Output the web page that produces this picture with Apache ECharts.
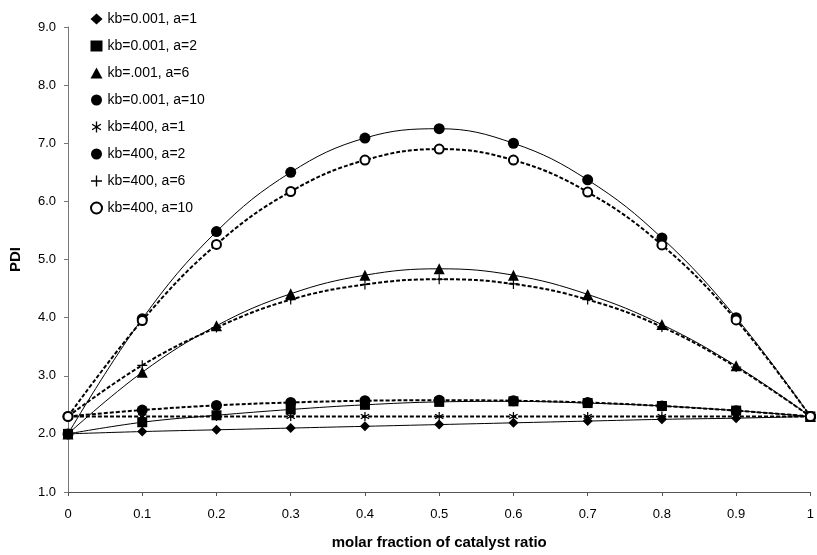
<!DOCTYPE html>
<html>
<head>
<meta charset="utf-8">
<script src="https://cdn.jsdelivr.net/npm/echarts@6/dist/echarts.min.js"></script>
<style>
html, body { margin: 0; padding: 0; background: #fff; }
#chart { width: 817px; height: 555px; }
</style>
</head>
<body>
<div id="chart"></div>
<script>
// x values (molar fraction)
var xs = [0, 0.1, 0.2, 0.3, 0.4, 0.5, 0.6, 0.7, 0.8, 0.9, 1];

// PDI values
var kb001a1 = [2.0, 2.04, 2.07, 2.1, 2.13, 2.16, 2.19, 2.22, 2.25, 2.27, 2.3];
var kb001a2 = [2.0, 2.2, 2.32, 2.42, 2.5, 2.55, 2.56, 2.53, 2.48, 2.4, 2.3];
var kb001a6 = [2.0, 3.06, 3.86, 4.41, 4.73, 4.84, 4.73, 4.4, 3.88, 3.17, 2.3];
var kb001a10 = [2.0, 3.98, 5.48, 6.5, 7.09, 7.25, 7.0, 6.37, 5.37, 4.0, 2.3];
var kb400a1 = [2.3, 2.3, 2.3, 2.3, 2.3, 2.3, 2.3, 2.3, 2.3, 2.3, 2.3];
var kb400a2 = [2.3, 2.41, 2.49, 2.54, 2.57, 2.58, 2.57, 2.54, 2.48, 2.4, 2.3];
var kb400a6 = [2.3, 3.18, 3.83, 4.31, 4.57, 4.66, 4.58, 4.31, 3.84, 3.15, 2.3];
var kb400a10 = [2.3, 3.95, 5.26, 6.17, 6.71, 6.9, 6.71, 6.16, 5.25, 3.96, 2.3];

var names = ['kb=0.001, a=1', 'kb=0.001, a=2', 'kb=.001, a=6', 'kb=0.001, a=10',
	'kb=400, a=1', 'kb=400, a=2', 'kb=400, a=6', 'kb=400, a=10'];

var asterisk = 'path://M4.4,0 L5.6,0 L5.6,10 L4.4,10 Z ' +
	'M1.32,1.99 L9.32,6.99 L8.68,8.01 L0.68,3.01 Z ' +
	'M0.68,6.99 L8.68,1.99 L9.32,3.01 L1.32,8.01 Z';
var plus = 'path://M4.4,0 L5.6,0 L5.6,4.4 L10,4.4 L10,5.6 L5.6,5.6 L5.6,10 L4.4,10 L4.4,5.6 L0,5.6 L0,4.4 L4.4,4.4 Z';

function pairs(vals) {
	return xs.map(function (x, i) { return [x, vals[i]]; });
}

function line(name, vals, symbol, size, dashed) {
	return {
		name: name,
		type: 'line',
		data: pairs(vals),
		smooth: 0.4,
		symbol: symbol,
		symbolSize: size,
		showAllSymbol: true,
		animation: false,
		itemStyle: { color: '#000', borderColor: '#000', borderWidth: symbol === 'emptyCircle' ? 1 : 0 },
		lineStyle: dashed ? { color: '#000', width: 2, type: [4, 2] } : { color: '#000', width: 1 }
	};
}

var myChart = echarts.init(document.getElementById('chart'));
var option = {
	backgroundColor: '#fff',
	animation: false,
	grid: { left: 64, right: 5, top: 27, bottom: 59, containLabel: false },
	legend: {
		orient: 'vertical',
		left: 85,
		top: 7,
		itemWidth: 12,
		itemHeight: 11,
		itemGap: 13,
		textStyle: { fontFamily: 'Liberation Sans, Arial', fontSize: 14, color: '#000' },
		data: [
			{ name: names[0], icon: 'diamond' },
			{ name: names[1], icon: 'rect' },
			{ name: names[2], icon: 'triangle' },
			{ name: names[3], icon: 'circle' },
			{ name: names[4], icon: asterisk },
			{ name: names[5], icon: 'circle' },
			{ name: names[6], icon: plus },
			{ name: names[7], icon: 'emptyCircle' }
		]
	}, //图例
	xAxis: {
		type: 'value',
		min: 0,
		max: 1,
		interval: 0.1,
		name: 'molar fraction of catalyst ratio',
		nameLocation: 'middle',
		nameGap: 43,
		nameTextStyle: { fontFamily: 'Liberation Sans, Arial', fontSize: 15, fontWeight: 'bold', color: '#000' },
		axisLine: { show: true, onZero: false, lineStyle: { color: '#555', width: 1 } },
		axisTick: { show: true, inside: false, length: 4, lineStyle: { color: '#555' } },
		axisLabel: {
			margin: 16,
			fontFamily: 'Liberation Sans, Arial',
			fontSize: 13,
			color: '#000',
			formatter: function (v) { return String(+v.toFixed(1)); }
		},
		splitLine: { show: false }
	},
	yAxis: {
		type: 'value',
		min: 1,
		max: 9,
		interval: 1,
		name: 'PDI',
		nameLocation: 'middle',
		nameGap: 45,
		nameRotate: 90,
		nameTextStyle: { fontFamily: 'Liberation Sans, Arial', fontSize: 15, fontWeight: 'bold', color: '#000' },
		axisLine: { show: true, lineStyle: { color: '#777', width: 1 } },
		axisTick: { show: true, inside: false, length: 4, lineStyle: { color: '#777' } },
		axisLabel: {
			margin: 12,
			fontFamily: 'Liberation Sans, Arial',
			fontSize: 13,
			color: '#000',
			formatter: function (v) { return v.toFixed(1); }
		},
		splitLine: { show: false }
	},
	series: [
		line(names[0], kb001a1, 'diamond', 10, false),
		line(names[1], kb001a2, 'rect', 10, false),
		line(names[2], kb001a6, 'triangle', 11, false),
		line(names[3], kb001a10, 'circle', 11, false),
		line(names[4], kb400a1, asterisk, 9, true),
		line(names[5], kb400a2, 'circle', 11, true),
		line(names[6], kb400a6, plus, 10, true),
		line(names[7], kb400a10, 'emptyCircle', 9, true)
	]
};
myChart.setOption(option);
</script>
</body>
</html>
